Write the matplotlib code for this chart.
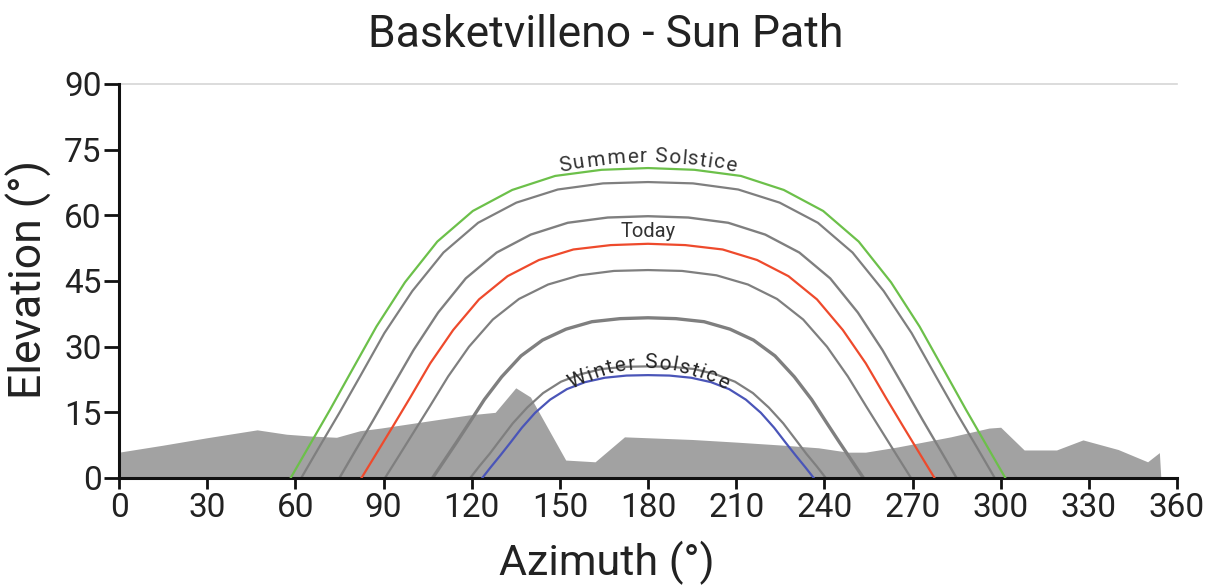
import numpy as np
import matplotlib
matplotlib.use("Agg")
import matplotlib.pyplot as plt
from matplotlib.font_manager import FontProperties

plt.rcParams['font.family'] = ['Roboto', 'DejaVu Sans']

TITLE = "Basketvilleno - Sun Path"

# horizon profile (azimuth, elevation)
horizon_az = [0, 15, 30, 47, 57, 65, 74, 82, 89, 105, 119, 128, 135, 140, 152, 162, 172,
              195, 210, 226, 238, 248, 254, 265, 283, 296, 300, 308, 319, 328, 340, 350,
              354, 354.5]
horizon_el = [5.9, 7.5, 9.2, 11.0, 10.0, 9.6, 9.3, 10.8, 11.4, 13.0, 14.4, 15.0, 20.6, 18.5,
              4.1, 3.7, 9.4, 8.8, 8.2, 7.5, 6.9, 5.9, 5.9, 7.1, 9.4, 11.4, 11.6, 6.4, 6.4,
              8.7, 6.5, 3.7, 5.8, 0]

# sun paths
summer_az = [58.4, 64.5, 71.8, 79.1, 87.6, 97.3, 108.3, 120.4, 133.8, 148.4, 164.2, 180,
             195.8, 211.6, 226.2, 239.6, 251.7, 262.7, 272.4, 280.9, 288.2, 295.5, 301.6]
summer_el = [0, 7.1, 15.6, 24.4, 34.6, 44.7, 54.0, 61.0, 65.8, 69.0, 70.4, 70.8,
             70.4, 69.0, 65.8, 61.0, 54.0, 44.7, 34.6, 24.4, 15.6, 7.1, 0]

gray1_az = [62.0, 67.9, 75.0, 82.1, 90.3, 99.8, 110.4, 122.2, 135.2, 149.3, 164.7, 180,
            195.3, 210.7, 224.8, 237.8, 249.6, 260.2, 269.7, 277.9, 285.0, 292.1, 298.0]
gray1_el = [0, 6.8, 14.9, 23.3, 33.1, 42.7, 51.5, 58.3, 62.9, 65.9, 67.3, 67.6,
            67.3, 65.9, 62.9, 58.3, 51.5, 42.7, 33.1, 23.3, 14.9, 6.8, 0]

gray2_az = [75.0, 80.2, 86.5, 92.8, 100.2, 108.6, 118.0, 128.5, 140.1, 152.7, 166.3, 180,
            193.7, 207.3, 219.9, 231.5, 242.0, 251.4, 259.8, 267.2, 273.5, 279.8, 285.0]
gray2_el = [0, 6.0, 13.2, 20.6, 29.2, 37.8, 45.6, 51.5, 55.6, 58.3, 59.5, 59.8,
            59.5, 58.3, 55.6, 51.5, 45.6, 37.8, 29.2, 20.6, 13.2, 6.0, 0]

today_az = [82.5, 87.4, 93.2, 99.1, 105.9, 113.7, 122.5, 132.2, 142.9, 154.6, 167.3, 180,
            192.7, 205.4, 217.1, 227.8, 237.5, 246.3, 254.1, 260.9, 266.8, 272.6, 277.5]
today_el = [0, 5.4, 11.8, 18.4, 26.2, 33.8, 40.8, 46.1, 49.8, 52.2, 53.2, 53.5,
            53.2, 52.2, 49.8, 46.1, 40.8, 33.8, 26.2, 18.4, 11.8, 5.4, 0]

gray3_az = [90.5, 95.0, 100.3, 105.7, 112.0, 119.1, 127.2, 136.1, 146.0, 156.7, 168.4, 180,
            191.6, 203.3, 214.0, 223.9, 232.8, 240.9, 248.0, 254.3, 259.7, 265.0, 269.5]
gray3_el = [0, 4.8, 10.5, 16.3, 23.2, 30.0, 36.2, 40.9, 44.2, 46.3, 47.3, 47.5,
            47.3, 46.3, 44.2, 40.9, 36.2, 30.0, 23.2, 16.3, 10.5, 4.8, 0]

gray4_az = [106.7, 110.4, 114.8, 119.2, 124.3, 130.2, 136.8, 144.1, 152.1, 160.9, 170.5, 180,
            189.5, 199.1, 207.9, 215.9, 223.2, 229.8, 235.7, 240.8, 245.2, 249.6, 253.3]
gray4_el = [0, 3.7, 8.1, 12.6, 17.9, 23.1, 27.9, 31.5, 34.0, 35.7, 36.4, 36.6,
            36.4, 35.7, 34.0, 31.5, 27.9, 23.1, 17.9, 12.6, 8.1, 3.7, 0]

gray5_az = [119.5, 122.5, 126.2, 129.8, 134.0, 138.9, 144.3, 150.4, 157.0, 164.3, 172.1, 180,
            187.9, 195.7, 203.0, 209.6, 215.7, 221.1, 226.0, 230.2, 233.8, 237.5, 240.5]
gray5_el = [0, 2.6, 5.6, 8.8, 12.5, 16.1, 19.4, 22.0, 23.7, 24.9, 25.4, 25.5,
            25.4, 24.9, 23.7, 22.0, 19.4, 16.1, 12.5, 8.8, 5.6, 2.6, 0]

winter_az = [123.6, 126.4, 129.8, 133.2, 137.1, 141.6, 146.7, 152.4, 158.6, 165.3, 172.7, 180,
             187.3, 194.7, 201.4, 207.6, 213.3, 218.4, 222.9, 226.8, 230.2, 233.6, 236.4]
winter_el = [0, 2.4, 5.2, 8.1, 11.5, 14.9, 17.9, 20.3, 21.9, 22.9, 23.4, 23.5,
             23.4, 22.9, 21.9, 20.3, 17.9, 14.9, 11.5, 8.1, 5.2, 2.4, 0]

x_ticks = list(range(0, 361, 30))
y_ticks = list(range(0, 91, 15))

GREEN = "#6cc04a"
RED = "#ee4a2c"
BLUE = "#4a55b8"
GRAY = "#7f7f7f"
HORIZON = "#a2a2a2"

fig = plt.figure(figsize=(12.21, 5.87), dpi=100)
ax = fig.add_axes([119 / 1221, 1 - 478 / 587, 1058 / 1221, 394 / 587])

ax.fill_between(horizon_az, 0, horizon_el, color=HORIZON, lw=0, zorder=1)

for az, el, w in [(gray1_az, gray1_el, 1.6), (gray2_az, gray2_el, 1.7),
                  (gray3_az, gray3_el, 1.6), (gray4_az, gray4_el, 2.4),
                  (gray5_az, gray5_el, 1.6)]:
    ax.plot(az, el, color=GRAY, lw=w, zorder=2, solid_joinstyle="round")
ax.plot(summer_az, summer_el, color=GREEN, lw=1.6, zorder=3, solid_joinstyle="round")
ax.plot(today_az, today_el, color=RED, lw=1.6, zorder=3, solid_joinstyle="round")
ax.plot(winter_az, winter_el, color=BLUE, lw=1.6, zorder=3, solid_joinstyle="round")

ax.set_xlim(0, 360)
ax.set_ylim(0, 90)
ax.set_xticks(x_ticks)
ax.set_yticks(y_ticks)
ax.axhline(90, color="#d6d6d6", lw=1.2, clip_on=False, zorder=0)
for s in ["top", "right"]:
    ax.spines[s].set_visible(False)
for s in ["left", "bottom"]:
    ax.spines[s].set_linewidth(2.2)
    ax.spines[s].set_color("#111111")
ax.tick_params(axis="both", labelsize=24, width=2, color="#111111", labelcolor="#222222")
ax.tick_params(axis="y", length=10.5, pad=2)
ax.tick_params(axis="x", length=8, pad=2)

ax.set_ylabel("Elevation (°)", fontsize=32, color="#222222")
ax.yaxis.set_label_coords(-0.063, 0.503)
ax.set_xlabel("Azimuth (°)", fontsize=31, color="#222222")
ax.xaxis.set_label_coords(0.461, -0.160)
fig.text(606 / 1221, 1 - 47 / 587, TITLE, fontsize=32, ha="center", va="baseline",
         color="#222222")


def curved_label(text, az, el, offset_px, total_px, fontsize, color):
    # place characters one by one along a smooth fit of the curve top
    renderer = fig.canvas.get_renderer()
    prop = FontProperties(family="Roboto", size=fontsize)
    pts = ax.transData.transform(np.column_stack([az, el]))
    cx = ax.transData.transform((180, 0))[0]
    keep = np.abs(np.array(az) - 180) < 50
    a, b, c = np.polyfit(pts[keep, 0] - cx, pts[keep, 1], 2)

    def width(s):
        if not s:
            return 0.0
        return renderer.get_text_width_height_descent(s, prop, ismath=False)[0]

    total = width(text)
    scale = total_px / total
    xs = np.linspace(-total_px, total_px, 4001)
    ys = a * xs ** 2 + b * xs + c
    seg = np.hypot(np.diff(xs), np.diff(ys))
    arc = np.concatenate([[0], np.cumsum(seg)])
    arc -= np.interp(0, xs, arc)
    for i, ch in enumerate(text):
        if ch == " ":
            continue
        mid = (width(text[:i]) + width(text[:i + 1])) / 2
        s = (mid - total / 2) * scale
        x = np.interp(s, arc, xs)
        y = a * x ** 2 + b * x + c
        ang = np.arctan(2 * a * x + b)
        px = cx + x - np.sin(ang) * offset_px
        py = y + np.cos(ang) * offset_px
        dx, dy = ax.transData.inverted().transform((px, py))
        ax.text(dx, dy, ch, fontsize=fontsize, color=color, rotation=np.degrees(ang),
                rotation_mode="anchor", ha="center", va="center", zorder=5)


curved_label("Summer Solstice", summer_az, summer_el, 10, 177, 15, "#333333")
curved_label("Winter Solstice", winter_az, winter_el, 7, 163, 15, "#262626")
ax.text(180, 56.2, "Today", fontsize=14.5, color="#333333", ha="center", va="center", zorder=5)

fig.savefig("out.png", dpi=100)
